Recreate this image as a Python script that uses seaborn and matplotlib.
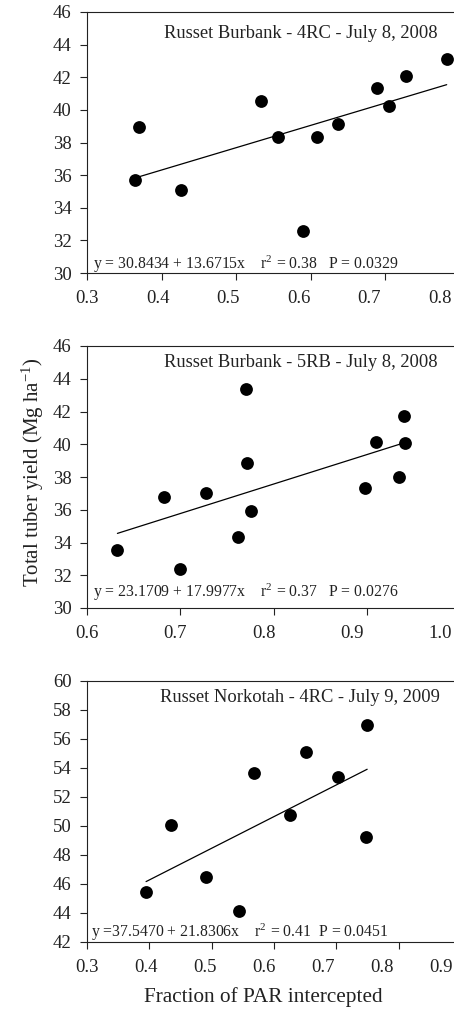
import numpy as np
import pandas as pd
import matplotlib
matplotlib.use("Agg")
import matplotlib.pyplot as plt
import matplotlib.transforms as mtransforms
import seaborn as sns

# Fraction of PAR intercepted vs total tuber yield
x1 = [0.3644, 0.3698, 0.4262, 0.5336, 0.5559, 0.5904, 0.6087, 0.6374, 0.6897, 0.7054, 0.7282, 0.7828]
y1 = [35.71, 38.96, 35.10, 40.57, 38.35, 32.55, 38.35, 39.14, 41.35, 40.24, 42.10, 43.14]

x2 = [0.6326, 0.6820, 0.6998, 0.7274, 0.7621, 0.7707, 0.7714, 0.7757, 0.8976, 0.9101, 0.9344, 0.9398, 0.9413]
y2 = [33.57, 36.79, 32.40, 37.05, 34.32, 43.39, 38.83, 35.95, 37.30, 40.11, 38.01, 41.70, 40.09]

x3 = [0.3948, 0.4344, 0.4906, 0.5441, 0.5682, 0.6255, 0.6522, 0.7036, 0.7475, 0.7497]
y3 = [45.45, 50.07, 46.48, 44.11, 53.66, 50.78, 55.10, 53.38, 49.22, 56.99]

titles = ["Russet Burbank - 4RC - July 8, 2008",
          "Russet Burbank - 5RB - July 8, 2008",
          "Russet Norkotah - 4RC - July 9, 2009"]
intercepts = [30.8434, 23.1709, 37.5470]
slopes = [13.6715, 17.9977, 21.8306]
r2s = [0.38, 0.37, 0.41]
pvals = [0.0329, 0.0276, 0.0451]

xlims = [(0.3, 0.85), (0.6, 1.05), (0.3, 0.95)]
ylims = [(30, 46), (30, 46), (42, 60)]
xticks = [[0.3, 0.4, 0.5, 0.6, 0.7, 0.8],
          [0.6, 0.7, 0.8, 0.9, 1.0],
          [0.3, 0.4, 0.5, 0.6, 0.7, 0.8, 0.9]]
yticks = [np.arange(30, 47, 2), np.arange(30, 47, 2), np.arange(42, 61, 2)]

sns.set_style("ticks")
plt.rcParams["font.family"] = ["Liberation Serif", "DejaVu Serif"]
plt.rcParams["mathtext.fontset"] = "stix"

W, H = 454, 1017
fig = plt.figure(figsize=(W / 100, H / 100), dpi=100)

# axes boxes in pixels: left, top, bottom, px per x unit
boxes = [(87, 12, 273, 745), (87, 346, 608, 933), (87, 681, 942, 623)]
title_pos = [(438, 33), (438, 362), (440, 697)]
eq_pos = [(93, 264), (93, 592), (91, 932)]

data = [(x1, y1), (x2, y2), (x3, y3)]
for i, ((xs, ys), (left, top, bottom, scale)) in enumerate(zip(data, boxes)):
    width = (xlims[i][1] - xlims[i][0]) * scale
    ax = fig.add_axes([left / W, 1 - bottom / H, width / W, (bottom - top) / H])
    df = pd.DataFrame({"x": xs, "y": ys})

    sns.scatterplot(data=df, x="x", y="y", ax=ax, color="black", s=85,
                    edgecolor="black", linewidth=0, zorder=3)
    xfit = np.array([df.x.min(), df.x.max()])
    sns.lineplot(x=xfit, y=intercepts[i] + slopes[i] * xfit, ax=ax,
                 color="black", linewidth=0.9)

    ax.set_xlim(*xlims[i])
    ax.set_ylim(*ylims[i])
    ax.set_xticks(xticks[i])
    ax.set_yticks(yticks[i])
    ax.set_xticklabels([f"{t:.1f}" for t in xticks[i]])
    ax.set_xlabel("")
    ax.set_ylabel("")
    ax.tick_params(direction="out", length=5, width=0.8, labelsize=13.5,
                   colors="#222222")
    ax.tick_params(axis="x", pad=7)
    ax.tick_params(axis="y", pad=6)
    for side in ["left", "bottom", "top"]:
        ax.spines[side].set_visible(True)
        ax.spines[side].set_color("#222222")
        ax.spines[side].set_linewidth(0.8)
    ax.spines["right"].set_visible(False)

    # the original's tick labels creep left of their ticks
    x0 = ax.transData.transform((xlims[i][0], 0))[0]
    for t, lab in zip(xticks[i], ax.get_xticklabels()):
        dpx = ax.transData.transform((t, 0))[0] - x0
        off = mtransforms.ScaledTranslation(-0.053 * dpx / 100, 0, fig.dpi_scale_trans)
        lab.set_transform(lab.get_transform() + off)

    fig.text(title_pos[i][0] / W, 1 - title_pos[i][1] / H, titles[i],
             ha="right", va="center", fontsize=13.3, color="#222222")
    eq_sign = "=" if i == 2 else "= "
    sep = "  " if i == 2 else "   "
    eq = (f"y {eq_sign}{intercepts[i]:.4f} + {slopes[i]:.4f}x    "
          f"r$^\\mathregular{{2}}$ = {r2s[i]:.2f}{sep}P = {pvals[i]:.4f}")
    fig.text(eq_pos[i][0] / W, 1 - eq_pos[i][1] / H, eq,
             ha="left", va="center", fontsize=11.3, color="#222222")

fig.text(33 / W, 1 - 472 / H, "Total tuber yield (Mg ha$^\\mathregular{-1}$)",
         rotation=90, ha="center", va="center", fontsize=15, color="#222222")
fig.text(263 / W, 1 - 997 / H, "Fraction of PAR intercepted",
         ha="center", va="center", fontsize=15.3, color="#222222")

fig.savefig("out.png", dpi=100)
